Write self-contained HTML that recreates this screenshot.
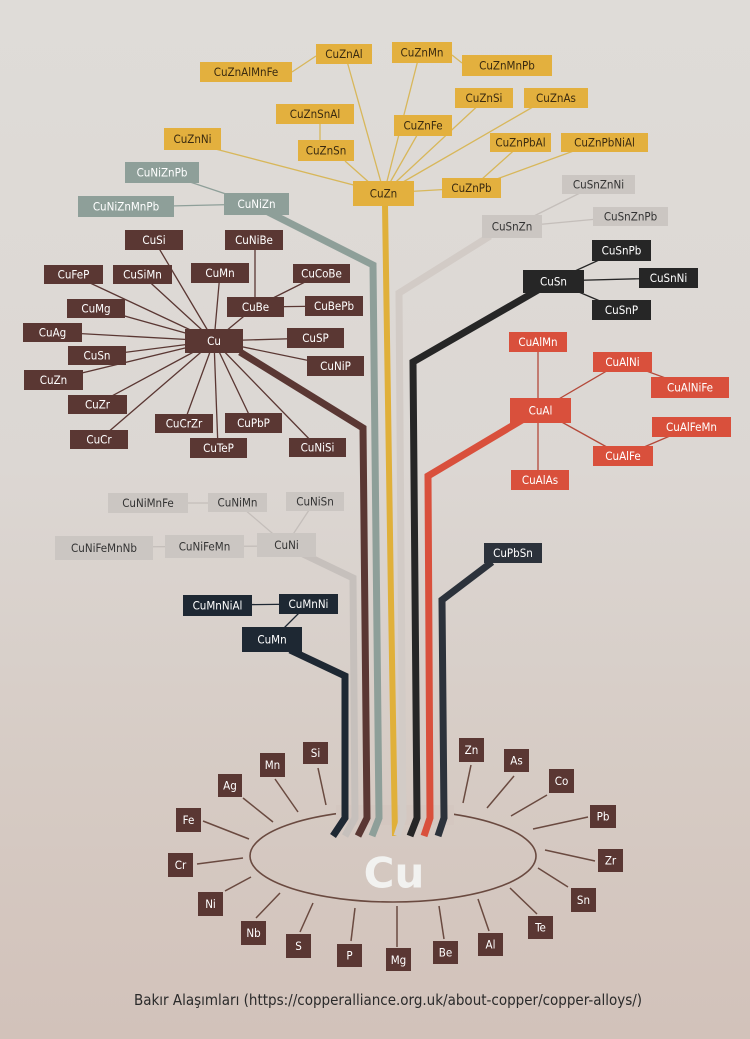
<!DOCTYPE html>
<html><head><meta charset="utf-8"><style>
html,body{margin:0;padding:0;}
body{width:750px;height:1039px;overflow:hidden;background:#dcd7d3;}
svg{display:block;}
text{font-family:"DejaVu Sans Condensed","Liberation Sans",sans-serif;font-size:11.5px;text-anchor:middle;dominant-baseline:central;}
</style></head><body>
<svg width="750" height="1039" viewBox="0 0 750 1039" xmlns="http://www.w3.org/2000/svg">
<defs>
<linearGradient id="bg" x1="0" y1="0" x2="0" y2="1"><stop offset="0" stop-color="#dfdcd8"/><stop offset="0.45" stop-color="#dcd7d3"/><stop offset="0.75" stop-color="#d6cbc4"/><stop offset="1" stop-color="#d2c2ba"/></linearGradient>
</defs>
<rect width="750" height="1039" fill="url(#bg)"/>

<ellipse cx="393" cy="856" rx="143" ry="46" fill="none" stroke="#6a4a40" stroke-width="1.6"/>
<rect x="336" y="805" width="118" height="20" fill="#d4c7c0"/>

<g stroke-width="1.3" fill="none">
<g stroke="#d8b75a">
<line x1="384" y1="193" x2="345" y2="54"/><line x1="384" y1="193" x2="420" y2="52"/>
<line x1="292" y1="72" x2="316" y2="56"/><line x1="452" y1="55" x2="462" y2="63"/>
<line x1="320" y1="124" x2="320" y2="140"/><line x1="345" y1="161" x2="372" y2="185"/>
<line x1="200" y1="145" x2="384" y2="193"/><line x1="420" y1="130" x2="384" y2="193"/>
<line x1="484" y1="100" x2="384" y2="193"/><line x1="545" y1="100" x2="384" y2="193"/>
<line x1="384" y1="193" x2="470" y2="188"/><line x1="520" y1="145" x2="472" y2="188"/>
<line x1="590" y1="145" x2="472" y2="188"/>
</g>
<g stroke="#8e9f99"><line x1="160" y1="172" x2="256" y2="204"/><line x1="126" y1="207" x2="256" y2="204"/></g>
<g stroke="#c4beba"><line x1="598" y1="184" x2="512" y2="227"/><line x1="630" y1="216" x2="512" y2="227"/></g>
<g stroke="#5a3733">
<line x1="214" y1="341" x2="154" y2="240"/><line x1="214" y1="341" x2="73" y2="275"/>
<line x1="214" y1="341" x2="142" y2="275"/><line x1="214" y1="341" x2="220" y2="273"/>
<line x1="214" y1="341" x2="96" y2="308"/><line x1="214" y1="341" x2="52" y2="332"/>
<line x1="214" y1="341" x2="97" y2="356"/><line x1="214" y1="341" x2="53" y2="380"/>
<line x1="214" y1="341" x2="97" y2="404"/><line x1="214" y1="341" x2="99" y2="440"/>
<line x1="214" y1="341" x2="184" y2="423"/><line x1="214" y1="341" x2="218" y2="448"/>
<line x1="214" y1="341" x2="253" y2="423"/><line x1="214" y1="341" x2="317" y2="447"/>
<line x1="214" y1="341" x2="335" y2="366"/><line x1="214" y1="341" x2="315" y2="338"/>
<line x1="214" y1="341" x2="255" y2="307"/><line x1="255" y1="240" x2="255" y2="307"/>
<line x1="255" y1="307" x2="321" y2="274"/><line x1="255" y1="307" x2="334" y2="306"/>
</g>
<g stroke="#262626"><line x1="553" y1="281" x2="621" y2="250"/><line x1="553" y1="281" x2="668" y2="278"/><line x1="553" y1="281" x2="621" y2="310"/></g>
<g stroke="#b4493a">
<line x1="538" y1="342" x2="538" y2="480"/><line x1="540" y1="410" x2="622" y2="362"/>
<line x1="622" y1="362" x2="690" y2="387"/><line x1="540" y1="410" x2="623" y2="456"/>
<line x1="623" y1="456" x2="691" y2="427"/>
</g>
<g stroke="#c4beba">
<line x1="148" y1="503" x2="237" y2="503"/><line x1="237" y1="503" x2="286" y2="545"/>
<line x1="315" y1="501" x2="286" y2="545"/><line x1="104" y1="547" x2="286" y2="546"/>
</g>
<g stroke="#1e2833"><line x1="217" y1="605" x2="308" y2="604"/><line x1="308" y1="604" x2="272" y2="640"/></g>
</g>

<g fill="none" stroke-width="7" stroke-linejoin="miter">
<path d="M290 650 L345 676 L345 818 L333 836" stroke="#1e2833"/>
<path d="M303 554 L353 578 L355 818 L345 836" stroke="#c6c0bc"/>
<path d="M240 352 L363 428 L367 818 L358 836" stroke="#5a3733"/>
<path d="M268 212 L373 265 L379 818 L372 836" stroke="#8e9f99"/>
<path d="M385 205 L391 600 L395 836" stroke="#e0b03a" stroke-width="6"/>
<path d="M490 236 L399 293 L403 818 L397 836" stroke="#d2cbc6"/>
<path d="M538 290 L413 362 L417 818 L410 836" stroke="#262626"/>
<path d="M522 420 L428 476 L430 818 L424 836" stroke="#d9503c"/>
<path d="M492 562 L442 600 L444 818 L438 836" stroke="#2c323b"/>
</g>

<g stroke="#6a4a40" stroke-width="1.5">
<line x1="318" y1="768" x2="326" y2="805"/><line x1="275" y1="779" x2="298" y2="812"/>
<line x1="243" y1="798" x2="273" y2="822"/><line x1="203" y1="821" x2="249" y2="839"/>
<line x1="197" y1="864" x2="243" y2="858"/><line x1="225" y1="891" x2="251" y2="877"/>
<line x1="256" y1="918" x2="280" y2="893"/><line x1="300" y1="932" x2="313" y2="903"/>
<line x1="351" y1="941" x2="355" y2="908"/><line x1="397" y1="947" x2="397" y2="906"/>
<line x1="444" y1="939" x2="439" y2="906"/><line x1="489" y1="931" x2="478" y2="899"/>
<line x1="537" y1="914" x2="510" y2="888"/><line x1="568" y1="887" x2="538" y2="868"/>
<line x1="595" y1="861" x2="545" y2="850"/><line x1="588" y1="817" x2="533" y2="829"/>
<line x1="547" y1="795" x2="511" y2="816"/><line x1="514" y1="776" x2="487" y2="808"/>
<line x1="471" y1="765" x2="463" y2="803"/>
</g>

<g fill="#e3b03e">
<rect x="316" y="44" width="56" height="20"/><rect x="392" y="42" width="60" height="21"/>
<rect x="200" y="62" width="92" height="20"/><rect x="462" y="55" width="90" height="21"/>
<rect x="276" y="104" width="78" height="20"/><rect x="455" y="88" width="58" height="20"/>
<rect x="524" y="88" width="64" height="20"/><rect x="394" y="115" width="58" height="21"/>
<rect x="164" y="128" width="57" height="22"/><rect x="298" y="140" width="56" height="21"/>
<rect x="490" y="133" width="61" height="19"/><rect x="561" y="133" width="87" height="19"/>
<rect x="353" y="181" width="61" height="25"/><rect x="442" y="178" width="59" height="20"/>
</g>
<g fill="#3a2a10">
<text x="344" y="54">CuZnAl</text><text x="422" y="52.5">CuZnMn</text>
<text x="246" y="72">CuZnAlMnFe</text><text x="507" y="65.5">CuZnMnPb</text>
<text x="315" y="114">CuZnSnAl</text><text x="484" y="98">CuZnSi</text>
<text x="556" y="98">CuZnAs</text><text x="423" y="125.5">CuZnFe</text>
<text x="192.5" y="139">CuZnNi</text><text x="326" y="150.5">CuZnSn</text>
<text x="520.5" y="142.5">CuZnPbAl</text><text x="604.5" y="142.5">CuZnPbNiAl</text>
<text x="383.5" y="193.5">CuZn</text><text x="471.5" y="188">CuZnPb</text>
</g>

<g fill="#8e9f99"><rect x="125" y="162" width="74" height="21"/><rect x="78" y="196" width="96" height="21"/><rect x="224" y="193" width="65" height="22"/></g>
<g fill="#fff"><text x="162" y="172.5">CuNiZnPb</text><text x="126" y="206.5">CuNiZnMnPb</text><text x="256.5" y="204">CuNiZn</text></g>

<g fill="#cbc6c2">
<rect x="562" y="175" width="73" height="19"/><rect x="593" y="207" width="75" height="19"/><rect x="482" y="215" width="60" height="23"/>
<rect x="108" y="493" width="80" height="20"/><rect x="208" y="493" width="59" height="19"/><rect x="286" y="492" width="58" height="19"/>
<rect x="55" y="536" width="98" height="24"/><rect x="165" y="535" width="79" height="23"/><rect x="257" y="533" width="59" height="24"/>
</g>
<g fill="#333">
<text x="598.5" y="184.5">CuSnZnNi</text><text x="630.5" y="216.5">CuSnZnPb</text><text x="512" y="226.5">CuSnZn</text>
<text x="148" y="503">CuNiMnFe</text><text x="237.5" y="502.5">CuNiMn</text><text x="315" y="501.5">CuNiSn</text>
<text x="104" y="548">CuNiFeMnNb</text><text x="204.5" y="546.5">CuNiFeMn</text><text x="286.5" y="545">CuNi</text>
</g>

<g fill="#5a3733">
<rect x="125" y="230" width="58" height="20"/><rect x="225" y="230" width="58" height="20"/>
<rect x="44" y="265" width="59" height="19"/><rect x="113" y="265" width="59" height="19"/>
<rect x="191" y="263" width="58" height="20"/><rect x="293" y="264" width="57" height="19"/>
<rect x="227" y="297" width="57" height="20"/><rect x="305" y="296" width="58" height="20"/>
<rect x="67" y="299" width="58" height="19"/><rect x="23" y="323" width="59" height="19"/>
<rect x="185" y="329" width="58" height="24"/><rect x="287" y="328" width="57" height="20"/>
<rect x="68" y="346" width="58" height="19"/><rect x="307" y="356" width="57" height="20"/>
<rect x="24" y="370" width="59" height="20"/><rect x="68" y="395" width="59" height="19"/>
<rect x="155" y="414" width="58" height="19"/><rect x="225" y="413" width="57" height="20"/>
<rect x="70" y="430" width="58" height="19"/><rect x="190" y="438" width="57" height="20"/>
<rect x="289" y="438" width="57" height="19"/>
</g>
<g fill="#fff">
<text x="154" y="240">CuSi</text><text x="254" y="240">CuNiBe</text>
<text x="73.5" y="274.5">CuFeP</text><text x="142.5" y="274.5">CuSiMn</text>
<text x="220" y="273">CuMn</text><text x="321.5" y="273.5">CuCoBe</text>
<text x="255.5" y="307">CuBe</text><text x="334" y="306">CuBePb</text>
<text x="96" y="308.5">CuMg</text><text x="52.5" y="332.5">CuAg</text>
<text x="214" y="341">Cu</text><text x="315.5" y="338">CuSP</text>
<text x="97" y="355.5">CuSn</text><text x="335.5" y="366">CuNiP</text>
<text x="53.5" y="380">CuZn</text><text x="97.5" y="404.5">CuZr</text>
<text x="184" y="423.5">CuCrZr</text><text x="253.5" y="423">CuPbP</text>
<text x="99" y="439.5">CuCr</text><text x="218.5" y="448">CuTeP</text>
<text x="317.5" y="447.5">CuNiSi</text>
</g>

<g fill="#262626"><rect x="523" y="270" width="61" height="23"/><rect x="592" y="240" width="59" height="21"/><rect x="639" y="268" width="59" height="20"/><rect x="592" y="300" width="59" height="20"/></g>
<g fill="#fff"><text x="553.5" y="281.5">CuSn</text><text x="621.5" y="250.5">CuSnPb</text><text x="668.5" y="278">CuSnNi</text><text x="621.5" y="310">CuSnP</text></g>

<g fill="#d9503c">
<rect x="509" y="332" width="58" height="20"/><rect x="593" y="352" width="59" height="20"/>
<rect x="651" y="377" width="78" height="21"/><rect x="510" y="398" width="61" height="25"/>
<rect x="652" y="417" width="79" height="20"/><rect x="593" y="446" width="60" height="20"/>
<rect x="511" y="470" width="58" height="20"/>
</g>
<g fill="#fff">
<text x="538" y="342">CuAlMn</text><text x="622.5" y="362">CuAlNi</text>
<text x="690" y="387.5">CuAlNiFe</text><text x="540.5" y="410.5">CuAl</text>
<text x="691.5" y="427">CuAlFeMn</text><text x="623" y="456">CuAlFe</text>
<text x="540" y="480">CuAlAs</text>
</g>

<rect x="484" y="543" width="58" height="20" fill="#2c323b"/>
<text x="513" y="553" fill="#fff">CuPbSn</text>

<g fill="#1e2833"><rect x="183" y="595" width="69" height="21"/><rect x="279" y="594" width="59" height="20"/><rect x="242" y="627" width="60" height="25"/></g>
<g fill="#fff"><text x="217.5" y="605.5">CuMnNiAl</text><text x="308.5" y="604">CuMnNi</text><text x="272" y="639.5">CuMn</text></g>

<g fill="#5a3733">
<rect x="303" y="742" width="25" height="22"/><rect x="260" y="753" width="25" height="24"/>
<rect x="218" y="774" width="24" height="23"/><rect x="176" y="808" width="25" height="24"/>
<rect x="168" y="853" width="25" height="24"/><rect x="198" y="892" width="25" height="24"/>
<rect x="241" y="921" width="25" height="24"/><rect x="286" y="934" width="25" height="24"/>
<rect x="337" y="944" width="25" height="23"/><rect x="386" y="948" width="25" height="23"/>
<rect x="433" y="941" width="25" height="23"/><rect x="478" y="933" width="25" height="23"/>
<rect x="528" y="916" width="25" height="23"/><rect x="571" y="888" width="25" height="24"/>
<rect x="598" y="849" width="25" height="23"/><rect x="590" y="805" width="26" height="23"/>
<rect x="549" y="769" width="25" height="24"/><rect x="504" y="749" width="25" height="23"/>
<rect x="459" y="738" width="25" height="24"/>
</g>
<g fill="#fff" style="font-size:11px">
<text x="315.5" y="753">Si</text><text x="272.5" y="765">Mn</text>
<text x="230" y="785.5">Ag</text><text x="188.5" y="820">Fe</text>
<text x="180.5" y="865">Cr</text><text x="210.5" y="904">Ni</text>
<text x="253.5" y="933">Nb</text><text x="298.5" y="946">S</text>
<text x="349.5" y="955.5">P</text><text x="398.5" y="960">Mg</text>
<text x="445.5" y="952.5">Be</text><text x="490.5" y="944.5">Al</text>
<text x="540.5" y="927.5">Te</text><text x="583.5" y="900">Sn</text>
<text x="610.5" y="860.5">Zr</text><text x="603" y="816.5">Pb</text>
<text x="561.5" y="781">Co</text><text x="516.5" y="760.5">As</text>
<text x="471.5" y="750">Zn</text>
</g>

<text x="394" y="873" fill="#f2f2f0" style="font-family:'DejaVu Sans','Liberation Sans',sans-serif;font-size:42px;font-weight:bold">Cu</text>

<text x="388" y="1000" fill="#2a2a2a" style="font-family:'DejaVu Sans Condensed','Liberation Sans',sans-serif;font-size:15px">Bakır Alaşımları (https://copperalliance.org.uk/about-copper/copper-alloys/)</text>
</svg>
</body></html>
